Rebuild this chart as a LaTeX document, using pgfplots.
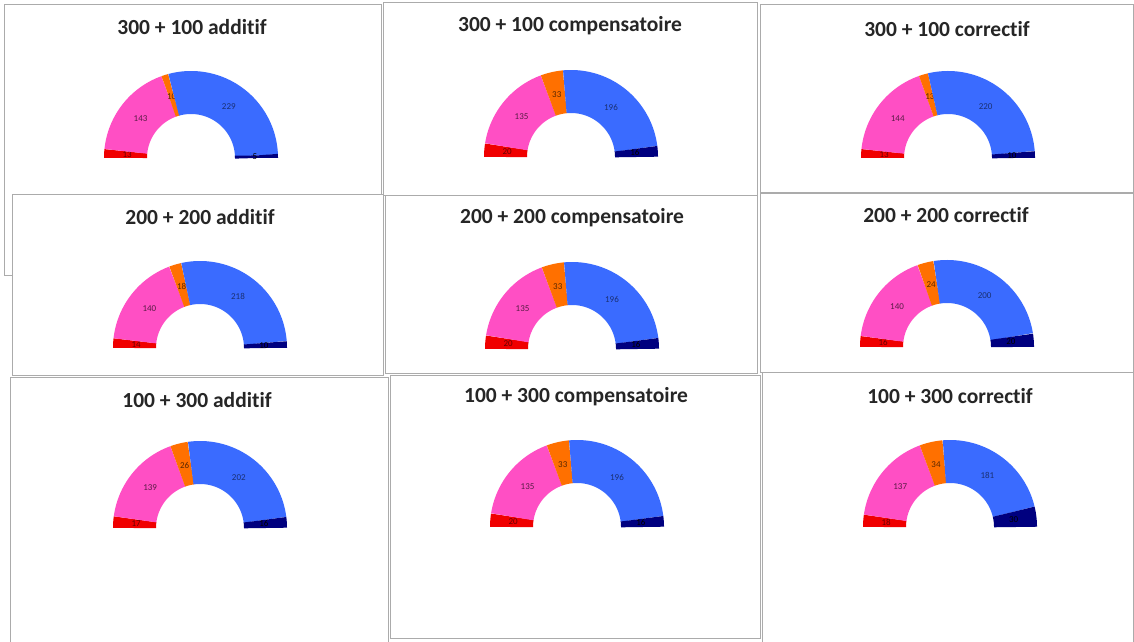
\documentclass[border=0pt]{standalone}
\usepackage{pgfplots}
\usepackage{pgfplotstable}
\pgfplotsset{compat=1.18}
\usepackage{fontspec}
\setmainfont{Carlito}[Ligatures=NoCommon]

\definecolor{cRed}{HTML}{F00000}
\definecolor{cPink}{HTML}{FF4FC4}
\definecolor{cOrange}{HTML}{FF7000}
\definecolor{cBlue}{HTML}{3A6BFF}
\definecolor{cNavy}{HTML}{00007F}
\definecolor{boxgray}{HTML}{ABABAB}

% seats per panel (left to right: red, pink, orange, blue, navy); cx, cy = centre of the hemicycle
\pgfplotstableread{
cx  cy  red pink orange blue navy
191 483 13  143  10    229  5
571 484 20  135  33    196  16
948 483 13  144  13    220  10
200 293 14  140  18    218  10
572 292 20  135  33    196  16
947 294 16  140  24    200  20
200 113 17  139  26    202  16
577 114 20  135  33    196  16
950 114 18  137  34    181  30
}\seats

\tikzset{lab/.style={font=\fontsize{9}{9}\selectfont, inner sep=0pt},
  ttl/.style={font=\bfseries\fontsize{21.5}{25}\selectfont, text=black!85},
  bx/.style={draw=boxgray, line width=1pt, fill=white}}

\newcommand\sector[3]{%
  \pgfmathsetmacro\aS{180-\acc/\tot*180}%
  \pgfmathsetmacro\acc{\acc+#2}%
  \pgfmathsetmacro\aE{180-\acc/\tot*180}%
  \pgfmathsetmacro\aM{(\aS+\aE)/2}%
  \addplot[draw=#1, line width=43pt, domain=\aE:\aS, samples=60] ({\cx+65.5*cos(x)},{\cy+65.5*sin(x)});
  \pgfmathsetmacro\lx{\cx+64*cos(\aM)}%
  \pgfmathsetmacro\ly{\cy+64*sin(\aM)}%
  \edef\tmp{\noexpand\node[lab, text=#3] at (axis cs:\lx,\ly) {#2};}\tmp
}
\newcommand\panel[1]{%
  \pgfplotstablegetelem{#1}{cx}\of\seats\edef\cx{\pgfplotsretval}%
  \pgfplotstablegetelem{#1}{cy}\of\seats\edef\cy{\pgfplotsretval}%
  \pgfplotstablegetelem{#1}{red}\of\seats\edef\vA{\pgfplotsretval}%
  \pgfplotstablegetelem{#1}{pink}\of\seats\edef\vB{\pgfplotsretval}%
  \pgfplotstablegetelem{#1}{orange}\of\seats\edef\vC{\pgfplotsretval}%
  \pgfplotstablegetelem{#1}{blue}\of\seats\edef\vD{\pgfplotsretval}%
  \pgfplotstablegetelem{#1}{navy}\of\seats\edef\vE{\pgfplotsretval}%
  \pgfmathsetmacro\tot{\vA+\vB+\vC+\vD+\vE}%
  \def\acc{0}%
  \sector{cRed}{\vA}{red!40!black}%
  \sector{cPink}{\vB}{cPink!35!black}%
  \sector{cOrange}{\vC}{cOrange!35!black}%
  \sector{cBlue}{\vD}{cBlue!45!black}%
  \sector{cNavy}{\vE}{black}%
}

\begin{document}
\begin{tikzpicture}[x=1pt,y=1pt]
\path[use as bounding box] (0,0) rectangle (1134,641);
\fill[white] (0,0) rectangle (1134,641);
% panel frames (collage)
\draw[bx] (4,636) rectangle (381,366);
\draw[bx] (383,638) rectangle (757,445);
\draw[bx] (760,636) rectangle (1133,448);
\draw[bx] (12,446) rectangle (383,266);
\draw[bx] (385,445) rectangle (757,268);
\draw[bx] (760,447) rectangle (1133,269);
\draw[bx] (10,264) rectangle (388,-4);
\draw[bx] (390,266) rectangle (760,3);
\draw[bx] (762,269) rectangle (1133,-4);
% titles
\node[ttl] at (192,614) {300 + 100 additif};
\node[ttl] at (570,615) {300 + 100 compensatoire};
\node[ttl] at (947,612) {300 + 100 correctif};
\node[ttl] at (200,424) {200 + 200 additif};
\node[ttl] at (572,423) {200 + 200 compensatoire};
\node[ttl] at (946,426) {200 + 200 correctif};
\node[ttl] at (197,241) {100 + 300 additif};
\node[ttl] at (576,244) {100 + 300 compensatoire};
\node[ttl] at (950,245) {100 + 300 correctif};
\begin{axis}[x=1pt, y=1pt, xmin=0, xmax=1134, ymin=0, ymax=641,
  hide axis, clip=false, anchor=south west, at={(0,0)}]
\panel{0}
\panel{1}
\panel{2}
\panel{3}
\panel{4}
\panel{5}
\panel{6}
\panel{7}
\panel{8}
\end{axis}
\end{tikzpicture}
\end{document}
